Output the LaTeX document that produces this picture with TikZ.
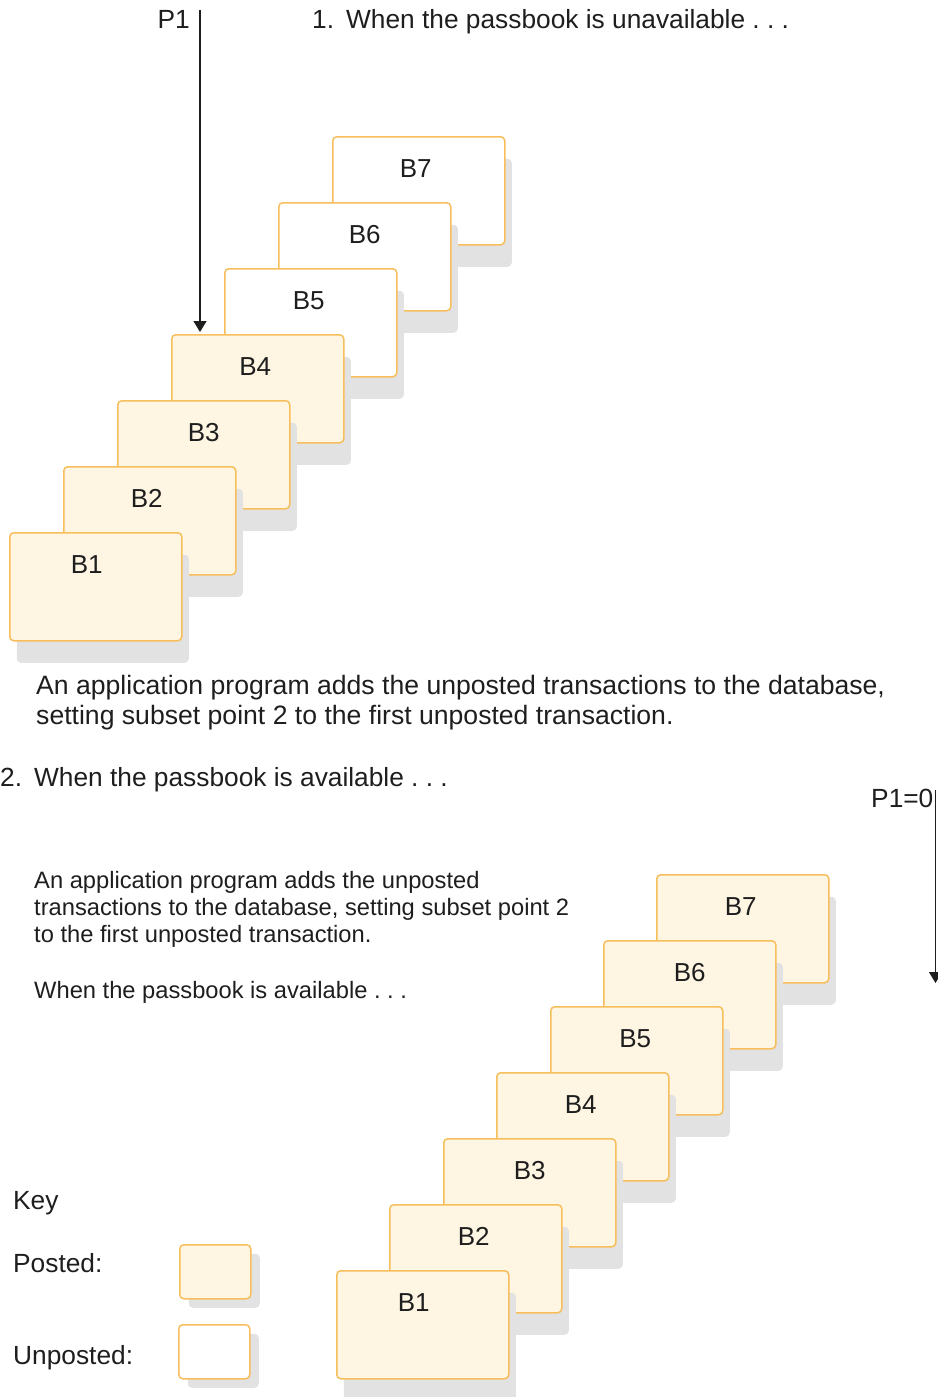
\documentclass[tikz,border=0pt]{standalone}
\usepackage{fontspec}
\setmainfont{Liberation Sans}
\usetikzlibrary{arrows.meta,shadows}
\definecolor{boxline}{RGB}{247,190,92}
\definecolor{postedfill}{RGB}{254,245,226}
\definecolor{shade}{RGB}{226,226,226}
\definecolor{ink}{RGB}{30,30,30}
\frenchspacing
\begin{document}
\begin{tikzpicture}[x=1pt,y=-1pt,
  blk/.style={draw=boxline, line width=1.5pt, rounded corners=4pt, anchor=north west,
    minimum width=172pt, inner xsep=0pt, inner ysep=0pt, text height=41pt, text depth=67pt,
    font=\fontsize{26}{30}\selectfont, text=ink,
    general shadow={fill=shade, shadow xshift=7pt, shadow yshift=-22pt}},
  keybox/.style={draw=boxline, line width=1.5pt, rounded corners=4pt, anchor=north west,
    minimum width=71pt, minimum height=54pt, inner sep=0pt,
    general shadow={fill=shade, shadow xshift=9pt, shadow yshift=-9pt}},
  pst/.style={fill=postedfill},
  unp/.style={fill=white},
  txt/.style={inner sep=0pt, text=ink, font=\fontsize{26.3}{30}\selectfont},
  big/.style={inner sep=0pt, text=ink, font=\fontsize{26.6}{30}\selectfont},
  small/.style={inner sep=0pt, text=ink, font=\fontsize{23.7}{27}\selectfont},
  conn/.style={draw=ink, line width=1.3pt, -{Triangle[width=13pt,length=11pt]}}
]
\useasboundingbox (0,0) rectangle (937,1397);

% Section 1
\node[txt, anchor=base east] (p1lab) at (190,29) {P1};
\node[txt, anchor=base west] (h1) at (312,29) {1.\hspace{12pt}When the passbook is unavailable . . .};

\node[blk,unp] (t7) at (332,136) {\hspace*{-6pt}B7};
\node[blk,unp] (t6) at (278,202) {B6};
\node[blk,unp] (t5) at (224,268) {\hspace*{-4pt}B5};
\node[blk,pst] (t4) at (171,334) {\hspace*{-5pt}B4};
\node[blk,pst] (t3) at (117,400) {B3};
\node[blk,pst] (t2) at (63,466) {\hspace*{-6pt}B2};
\node[blk,pst] (t1) at (9,532) {\hspace*{-18pt}B1};

\coordinate (p1s) at (200,10);
\draw[conn, shorten >=2pt] (p1s) -- (p1s |- t4.north);

\node[big, anchor=north west, align=left] (para1) at (36,675.5)
  {An application program adds the unposted transactions to the database,\\
   setting subset point 2 to the first unposted transaction.};

% Section 2
\node[txt, anchor=base west] (h2) at (0,786) {2.\hspace{12pt}When the passbook is available . . .};
\node[txt, anchor=base west] (p2lab) at (871,807) {P1=0};
\coordinate (p2s) at (935.5,790);
\coordinate (p2e) at (935.5,983);
\draw[conn] (p2s) -- (p2e);

\node[small, anchor=north west, align=left] (para2) at (34,871.5)
  {An application program adds the unposted\\
   transactions to the database, setting subset point 2\\
   to the first unposted transaction.};
\node[small, anchor=base west] (para3) at (34,998.5) {When the passbook is available . . .};

\node[blk,pst] (b7) at (656,874) {\hspace*{-4pt}B7};
\node[blk,pst] (b6) at (603,940) {B6};
\node[blk,pst] (b5) at (550,1006) {\hspace*{-3pt}B5};
\node[blk,pst] (b4) at (496,1072) {\hspace*{-4pt}B4};
\node[blk,pst] (b3) at (443,1138) {B3};
\node[blk,pst] (b2) at (389,1204) {\hspace*{-4pt}B2};
\node[blk,pst] (b1) at (336,1270) {\hspace*{-18pt}B1};

% Key
\node[txt, anchor=base west] (key) at (13,1209) {Key};
\node[txt, anchor=base west] (postedlab) at (13,1272) {Posted:};
\node[txt, anchor=base west] (unpostedlab) at (13,1364) {Unposted:};
\node[keybox,pst] (kp) at (179,1244) {};
\node[keybox,unp] (ku) at (178,1324) {};
\end{tikzpicture}
\end{document}
